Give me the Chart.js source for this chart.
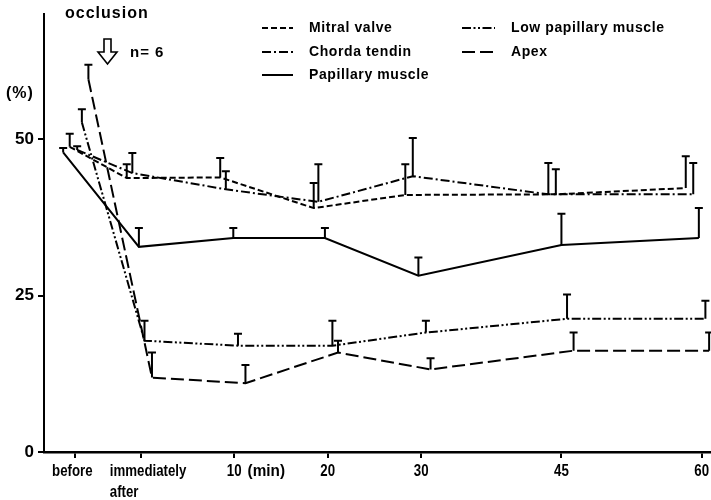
<!DOCTYPE html>
<html><head><meta charset="utf-8">
<script src="https://cdn.jsdelivr.net/npm/chart.js@4/dist/chart.umd.min.js"></script>
<style>html,body{margin:0;padding:0;background:#fff}#wrap{width:711px;height:500px;position:relative}</style>
</head><body><div id="wrap"><canvas id="c"></canvas></div>
<script>
// ---- data ----
const xTickValues = [-7, 0, 10, 20, 30, 45, 60];
const xTickLabels = ['before', ['immediately', 'after'], '10', '20', '30', '45', '60'];
const xUnitLabel = '(min)';
const yTickValues = [0, 25, 50];
const seriesNames = ['Mitral valve', 'Chorda tendin', 'Papillary muscle', 'Low papillary muscle', 'Apex'];

// time (min) of each plotted point (points are staggered slightly around each time)
const mitralX = [-7.6, -1.5, 8.5, 18.5, 28.3, 44.4, 58.3];
const mitralY = [48.8, 43.8, 43.9, 39.0, 41.1, 41.2, 42.2];
const mitralSD = [2.1, 2.2, 3.1, 4.0, 4.9, 4.0, 5.1];

const chordaX = [-6.8, -0.9, 9.1, 19.0, 29.1, 43.6, 59.1];
const chordaY = [48.3, 44.6, 42.0, 40.0, 44.1, 41.2, 41.2];
const chordaSD = [0.6, 3.2, 2.9, 6.0, 6.1, 5.0, 5.0];

const papillaryX = [-8.3, -0.2, 9.9, 19.7, 29.7, 45.0, 59.7];
const papillaryY = [47.9, 32.8, 34.2, 34.2, 28.2, 33.1, 34.2];
const papillarySD = [0.7, 3.0, 1.6, 1.6, 2.9, 5.0, 4.8];

const lowPapX = [-6.3, 0.4, 10.4, 20.5, 30.5, 45.6, 60.4];
const lowPapY = [52.7, 17.8, 17.0, 17.0, 19.1, 21.3, 21.3];
const lowPapSD = [2.1, 3.2, 1.9, 4.0, 1.9, 3.9, 2.9];

const apexX = [-5.6, 1.2, 11.2, 21.1, 31.0, 46.3, 60.8];
const apexY = [59.6, 11.9, 11.0, 15.9, 13.2, 16.2, 16.2];
const apexSD = [2.3, 4.0, 2.9, 1.9, 1.8, 2.9, 2.9];

// ---- build datasets ----
const toPts = (xs, ys) => xs.map((x, i) => ({x: x, y: ys[i]}));
const dashes = [[6, 3], [9, 3, 2, 3], [], [9, 2.5, 2, 2.5, 2, 2.5], [13, 5]];
const allX = [mitralX, chordaX, papillaryX, lowPapX, apexX];
const allY = [mitralY, chordaY, papillaryY, lowPapY, apexY];
const allSD = [mitralSD, chordaSD, papillarySD, lowPapSD, apexSD];

const datasets = seriesNames.map((name, i) => ({
  label: name,
  data: toPts(allX[i], allY[i]),
  sd: allSD[i],
  borderColor: '#000',
  backgroundColor: '#000',
  borderWidth: 2,
  borderDash: dashes[i],
  pointRadius: 0,
  tension: 0,
  clip: false
}));

const FAM = '"Liberation Sans", Arial, sans-serif';

const errorBars = {
  id: 'errorBars',
  afterDatasetsDraw(chart) {
    const ctx = chart.ctx, ys = chart.scales.y;
    ctx.save();
    ctx.strokeStyle = '#000';
    ctx.lineWidth = 2;
    ctx.setLineDash([]);
    chart.data.datasets.forEach((ds, i) => {
      const meta = chart.getDatasetMeta(i);
      meta.data.forEach((pt, j) => {
        const top = ys.getPixelForValue(ds.data[j].y + ds.sd[j]);
        ctx.beginPath();
        ctx.moveTo(pt.x, pt.y);
        ctx.lineTo(pt.x, top);
        ctx.moveTo(pt.x - 4, top);
        ctx.lineTo(pt.x + 4, top);
        ctx.stroke();
      });
    });
    ctx.restore();
  }
};

// narrow (horizontally condensed) text helper
function narrowText(ctx, text, x, y, align, sx) {
  ctx.save();
  const w = ctx.measureText(text).width * sx;
  let left = x;
  if (align === 'center') left = x - w / 2;
  else if (align === 'right') left = x - w;
  ctx.translate(left, y);
  ctx.scale(sx, 1);
  ctx.textAlign = 'left';
  ctx.fillText(text, 0, 0);
  ctx.restore();
  return w;
}

const annotations = {
  id: 'annotations',
  afterDraw(chart) {
    const ctx = chart.ctx;
    ctx.save();
    ctx.fillStyle = '#000';
    ctx.strokeStyle = '#000';
    const ls = v => { if ('letterSpacing' in ctx) ctx.letterSpacing = v; };

    // occlusion + arrow + n
    ctx.font = 'bold 16px ' + FAM;
    ls('1px');
    ctx.textAlign = 'left';
    ctx.textBaseline = 'middle';
    ctx.fillText('occlusion', 65, 14);
    ls('0px');
    ctx.lineWidth = 1.6;
    ctx.setLineDash([]);
    ctx.beginPath();
    ctx.moveTo(104, 39); ctx.lineTo(111, 39); ctx.lineTo(111, 52);
    ctx.lineTo(117, 52); ctx.lineTo(107.5, 64); ctx.lineTo(98, 52);
    ctx.lineTo(104, 52); ctx.closePath();
    ctx.stroke();
    ctx.font = 'bold 15px ' + FAM;
    ls('1px');
    ctx.fillText('n= 6', 130, 53);

    // (%) unit label
    ctx.font = 'bold 16px ' + FAM;
    ctx.fillText('(%)', 6, 94);
    ls('0px');

    // legend
    ctx.font = 'bold 14px ' + FAM;
    ls('0.6px');
    const rows = [
      {sx: 262, ex: 293, tx: 309, y: 28},
      {sx: 262, ex: 293, tx: 309, y: 52},
      {sx: 262, ex: 293, tx: 309, y: 75},
      {sx: 462, ex: 495, tx: 511, y: 28},
      {sx: 462, ex: 495, tx: 511, y: 52}
    ];
    chart.data.datasets.forEach((ds, i) => {
      const r = rows[i];
      ctx.lineWidth = 2;
      ctx.setLineDash(ds.borderDash);
      ctx.beginPath();
      ctx.moveTo(r.sx, r.y); ctx.lineTo(r.ex, r.y);
      ctx.stroke();
      ctx.setLineDash([]);
      ctx.fillText(ds.label, r.tx, r.y);
    });
    ls('0px');

    // x tick labels (condensed bold, as in the reference)
    const xs = chart.scales.x;
    const yTop = chart.chartArea.bottom + 11;
    ctx.font = 'bold 17px ' + FAM;
    ctx.textBaseline = 'top';
    const SX = 0.78;
    xTickValues.forEach((v, i) => {
      const px = xs.getPixelForValue(v);
      const lab = xTickLabels[i];
      if (Array.isArray(lab)) {
        // two-line label, left aligned a little left of its tick
        const left = px - 31;
        lab.forEach((line, k) => narrowText(ctx, line, left, yTop + k * 21, 'left', SX));
      } else if (i === 0) {
        narrowText(ctx, lab, px - 3, yTop, 'center', SX);
      } else {
        const w = narrowText(ctx, lab, px, yTop, 'center', SX);
        if (v === 10) narrowText(ctx, xUnitLabel, px + w / 2 + 6, yTop, 'left', 0.9);
      }
    });
    ctx.restore();
  }
};

new Chart(document.getElementById('c'), {
  type: 'line',
  data: {datasets: datasets},
  plugins: [errorBars, annotations],
  options: {
    responsive: true,
    maintainAspectRatio: false,
    animation: false,
    layout: {padding: {top: 13, left: 0, right: 0, bottom: 0}},
    plugins: {legend: {display: false}, tooltip: {enabled: false}},
    scales: {
      x: {
        type: 'linear',
        min: -10.35,
        max: 61.0,
        afterFit: s => { s.height = 48; },
        afterBuildTicks: s => { s.ticks = xTickValues.map(v => ({value: v})); },
        border: {display: true, color: '#000', width: 2.5},
        grid: {display: true, drawOnChartArea: false, drawTicks: true, tickLength: 6, color: '#000', lineWidth: 2},
        ticks: {display: false, autoSkip: false, maxRotation: 0, minRotation: 0}
      },
      y: {
        type: 'linear',
        min: 0,
        max: 70,
        afterFit: s => { s.width = 44; },
        afterBuildTicks: s => { s.ticks = yTickValues.map(v => ({value: v})); },
        border: {display: true, color: '#000', width: 2},
        grid: {display: true, drawOnChartArea: false, drawTicks: true, tickLength: 6, color: '#000', lineWidth: 2},
        ticks: {
          padding: 4, color: '#000',
          font: {family: FAM, size: 17, weight: 'bold'},
          callback: (v) => String(v)
        }
      }
    }
  }
});
</script>
</body></html>
